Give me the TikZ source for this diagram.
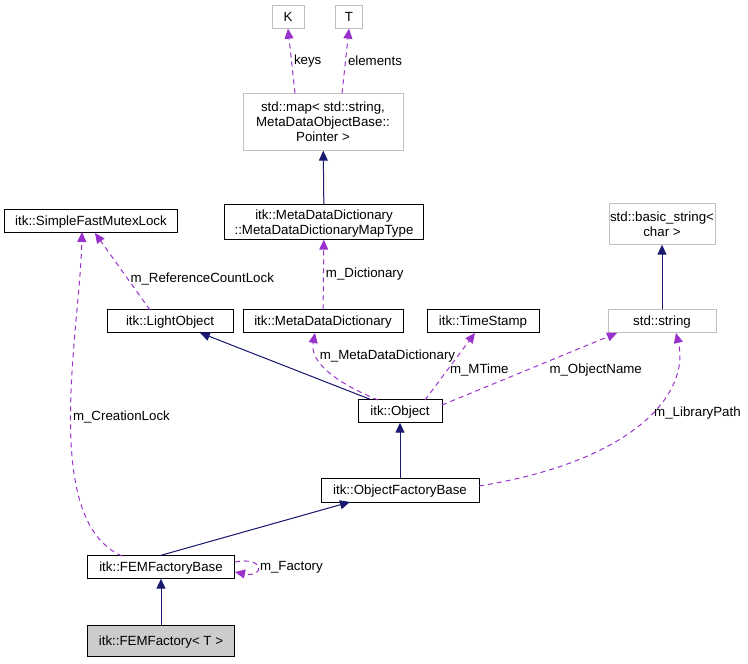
\documentclass[tikz,border=0pt]{standalone}
\usepackage{fontspec}
\setmainfont{Liberation Sans}
\usetikzlibrary{arrows.meta}
\definecolor{navy}{RGB}{25,25,112}
\definecolor{orchid}{RGB}{153,50,204}
\definecolor{lightgray}{RGB}{191,191,191}
\tikzset{>={Triangle[width=9pt,length=10pt]}}
\begin{document}
\begin{tikzpicture}[x=1pt,y=-1pt,font=\fontsize{13.3}{15}\selectfont,
  box/.style={draw=black, fill=white, inner sep=2pt, align=center, text depth=0pt},
  graybox/.style={box, draw=lightgray},
  inherit/.style={->, draw=navy, fill=navy, line width=1pt},
  member/.style={->, draw=orchid, line width=1pt, dash pattern=on 5pt off 4pt},
  lbl/.style={font=\fontsize{13.3}{15}\selectfont, inner sep=2pt}]
  \useasboundingbox (0,0) rectangle (748,664);

  %Nodes
  \node[graybox, minimum width=32pt, minimum height=23pt](K) at (288,17){K};
  \node[graybox, minimum width=27pt, minimum height=23pt](T) at (349,17){T};
  \node[graybox, minimum width=160pt, minimum height=57pt, inner sep=1pt](map) at (323,122){std::map\textless{} std::string,\\ MetaDataObjectBase::\\Pointer \textgreater};
  \node[box, minimum width=199pt, minimum height=35pt, inner sep=1pt](maptype) at (324,222){itk::MetaDataDictionary\\::MetaDataDictionaryMapType};
  \node[graybox, minimum width=96pt, minimum height=41pt, inner sep=1pt](bstring) at (662,224){std::basic\_string\textless\\ char \textgreater};
  \node[box, minimum width=173pt, minimum height=23pt](mutex) at (91,221){itk::SimpleFastMutexLock};
  \node[box, minimum width=126pt, minimum height=23pt](light) at (170,321){itk::LightObject};
  \node[box, minimum width=160pt, minimum height=23pt](dict) at (323,321){itk::MetaDataDictionary};
  \node[box, minimum width=112pt, minimum height=23pt](stamp) at (483,321){itk::TimeStamp};
  \node[graybox, minimum width=108pt, minimum height=23pt](string) at (662,321){std::string};
  \node[box, minimum width=84pt, minimum height=23pt](object) at (400,411){itk::Object};
  \node[box, minimum width=158pt, minimum height=24pt](factory) at (400,490){itk::ObjectFactoryBase};
  \node[box, minimum width=147pt, minimum height=23pt](fembase) at (161,567){itk::FEMFactoryBase};
  \node[box, fill=lightgray!80!white, minimum width=147pt, minimum height=31pt](fem) at (161,641){itk::FEMFactory\textless{} T \textgreater};

  %Lines
  \draw[member] (map.north -| 295,0) -- node[lbl, right]{keys} (K.south);
  \draw[member] (map.north -| 342,0) -- node[lbl, right]{elements} (T.south);
  \draw[inherit] (maptype) -- (map);
  \draw[member] (dict) -- node[lbl, right]{m\_Dictionary} (maptype);
  \draw[inherit] (string) -- (bstring);
  \draw[member] (150,310) -- node[lbl, right, pos=0.4]{m\_ReferenceCountLock} (95,233);
  \draw[inherit] (object) -- (light);
  \draw[member] (378,400) .. controls (330,380) and (310,360) .. node[lbl, right, pos=0.7]{m\_MetaDataDictionary} (315,333);
  \draw[member] (425,400) -- node[lbl, right, pos=0.45]{m\_MTime} (475,333);
  \draw[member] (442,405) -- node[lbl, below right, pos=0.6]{m\_ObjectName} (617,333);
  \draw[inherit] (factory) -- (object);
  \draw[member] (479,486) .. controls (640,460) and (690,390) .. node[lbl, right, pos=0.55]{m\_LibraryPath} (676,333);
  \draw[inherit] (fembase.north) -- (350,502);
  \draw[member] (122,556) .. controls (40,520) and (80,330) .. node[lbl, right, pos=0.5]{m\_CreationLock} (82,232);
  \draw[member] (235,562) .. controls (265,556) and (265,578) .. node[lbl, right]{m\_Factory} (235,572);
  \draw[inherit] (fem) -- (fembase);
\end{tikzpicture}
\end{document}
